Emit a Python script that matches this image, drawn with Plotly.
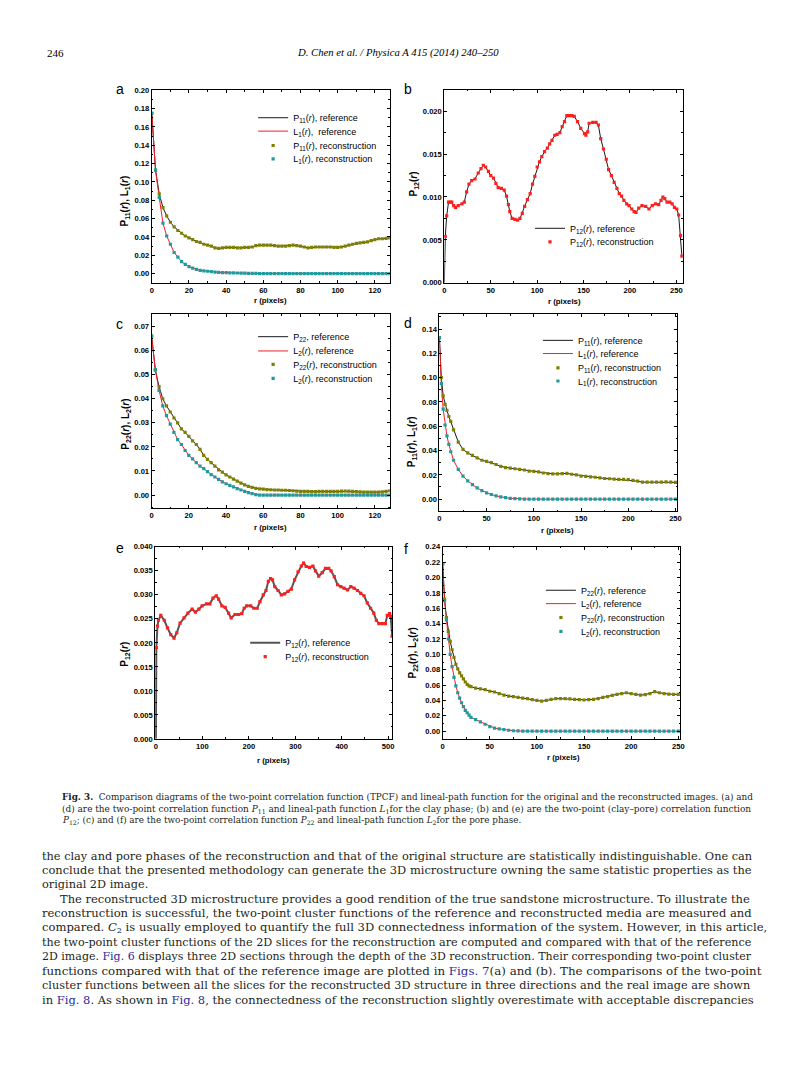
import plotly.graph_objects as go

# The page photo is 794x1084; plotly's html body has an 8px margin,
# so the figure is 786x1076 and window coordinates are shifted by 8px.
WIN_W, WIN_H = 794, 1084
OFF = 8
W, H = WIN_W - OFF, WIN_H - OFF

# ---------------- data ----------------
# panel a (r = 0..128 step 2)
r_a = list(range(0, 129, 2))
P11_a = [0.175, 0.113, 0.087, 0.072, 0.063, 0.056, 0.051, 0.047, 0.044, 0.041,
         0.039, 0.037, 0.035, 0.034, 0.032, 0.031, 0.030, 0.028, 0.0275, 0.028,
         0.0285, 0.0285, 0.0285, 0.028, 0.028, 0.0285, 0.0285, 0.029, 0.0305, 0.031,
         0.031, 0.031, 0.031, 0.0305, 0.030, 0.030, 0.030, 0.0305, 0.031, 0.0305,
         0.030, 0.029, 0.028, 0.0285, 0.029, 0.029, 0.029, 0.029, 0.029, 0.0285,
         0.0285, 0.029, 0.030, 0.031, 0.032, 0.033, 0.0335, 0.034, 0.0345, 0.036,
         0.037, 0.038, 0.038, 0.0385, 0.039]
L1_a = [0.175, 0.113, 0.083, 0.055, 0.041, 0.032, 0.023, 0.018, 0.013, 0.010,
        0.0075, 0.006, 0.0045, 0.0035, 0.003, 0.0025, 0.002, 0.0015, 0.0012, 0.001,
        0.001, 0.0008, 0.0007, 0.0006, 0.0005, 0.0004, 0.0003, 0.0002, 0.0001, 0.0,
        0, 0, 0, 0, 0, 0, 0, 0, 0, 0,
        0, 0, 0, 0, 0, 0, 0, 0, 0, 0,
        0, 0, 0, 0, 0, 0, 0, 0, 0, 0,
        0, 0, 0, 0, 0]

# panel b
r_b = [0, 1, 2.5, 4.5, 6.5, 8, 10, 12, 15, 19,
       21.5, 24, 26.5, 29.5, 33, 36.5, 39.5, 42, 44.5, 47.5,
       50, 53, 55.5, 58, 61.5, 64.5, 67, 69, 70.5, 73,
       76, 79, 81.5, 84, 86.5, 89.5, 92.5, 95, 97.5, 100,
       102.5, 105, 108, 111, 113.5, 116, 119, 121.5, 124.5, 127,
       129.5, 132, 135, 137.5, 140, 143.5, 147, 151, 152.5, 154.5,
       156, 160, 163.5, 166, 168.5, 171.5, 174.5, 177, 180, 183,
       186, 188.5, 191, 193.5, 196.5, 199, 202, 204.5, 206.5, 209.5,
       213, 217, 220.5, 224, 227.5, 231, 233.5, 235.5, 237.5, 240,
       243, 245.5, 248, 250.5, 252.5, 254.5, 256]
P12_b = [0, 0.0054, 0.0078, 0.0094, 0.0094, 0.0094, 0.0090, 0.0088, 0.0090, 0.0092,
         0.0094, 0.0106, 0.0115, 0.0119, 0.0121, 0.0128, 0.0133, 0.0137, 0.0135, 0.0130,
         0.0125, 0.0122, 0.0116, 0.0111, 0.0110, 0.0108, 0.0101, 0.0091, 0.0083, 0.0075,
         0.0074, 0.0073, 0.0075, 0.0081, 0.0089, 0.0097, 0.0104, 0.0115, 0.0124, 0.0135,
         0.0141, 0.0147, 0.0153, 0.0157, 0.0162, 0.0166, 0.0172, 0.0173, 0.0175, 0.0182,
         0.0188, 0.0195, 0.0195, 0.0195, 0.0194, 0.0188, 0.0180, 0.0174, 0.0172, 0.0176,
         0.0186, 0.0187, 0.0187, 0.0184, 0.0168, 0.0156, 0.0144, 0.0132, 0.0125, 0.0117,
         0.0110, 0.0104, 0.0101, 0.0096, 0.0092, 0.0090, 0.0086, 0.0083, 0.0082, 0.0087,
         0.0090, 0.0089, 0.0086, 0.0090, 0.0092, 0.0091, 0.0096, 0.0100, 0.0098, 0.0094,
         0.0094, 0.0092, 0.0088, 0.0086, 0.0079, 0.0055, 0.0031]

# panel c (r = 0..128 step 2)
r_c = list(range(0, 129, 2))
P22_c = [0.066, 0.052, 0.045, 0.040, 0.037, 0.0345, 0.032, 0.030, 0.0275, 0.026,
         0.0244, 0.0225, 0.021, 0.019, 0.0165, 0.0148, 0.0135, 0.012, 0.0105, 0.0095,
         0.0084, 0.0075, 0.0066, 0.0058, 0.005, 0.0042, 0.0036, 0.0032, 0.0028, 0.0026,
         0.0025, 0.0023, 0.0022, 0.0021, 0.0021, 0.002, 0.002, 0.0019, 0.0018, 0.0016,
         0.0015, 0.0015, 0.0015, 0.0014, 0.0014, 0.0015, 0.0015, 0.0015, 0.0015, 0.0015,
         0.0015, 0.0016, 0.0017, 0.0016, 0.0015, 0.0014, 0.0013, 0.0012, 0.0012, 0.0012,
         0.0012, 0.0012, 0.0013, 0.0015, 0.0018]
L2_c = [0.066, 0.052, 0.0435, 0.037, 0.033, 0.0295, 0.026, 0.023, 0.021, 0.0185,
        0.0165, 0.015, 0.0135, 0.012, 0.011, 0.0097, 0.0085, 0.0075, 0.0065, 0.0055,
        0.0047, 0.004, 0.0034, 0.0027, 0.0021, 0.0015, 0.001, 0.0006, 0.0002, 0.0,
        0, 0, 0, 0, 0, 0, 0, 0, 0, 0,
        0, 0, 0, 0, 0, 0, 0, 0, 0, 0,
        0, 0, 0, 0, 0, 0, 0, 0, 0, 0,
        0, 0, 0, 0, 0]

# panel d
r_d = [0, 2, 4, 6, 8, 10, 12,
       15, 20, 25, 30, 35, 40, 45, 50, 55, 60,
       65, 70, 75, 80, 85, 90, 95, 100, 105, 110,
       115, 120, 125, 130, 135, 140, 145, 150, 155, 160,
       165, 170, 175, 180, 185, 190, 195, 200, 205, 210,
       215, 220, 225, 230, 235, 240, 245, 250, 255]
P11_d = [0.133, 0.100, 0.085, 0.078, 0.073, 0.068, 0.064,
         0.057, 0.047, 0.041, 0.038, 0.036, 0.034, 0.032, 0.031, 0.030, 0.0285,
         0.027, 0.026, 0.0255, 0.025, 0.0245, 0.024, 0.023, 0.0228, 0.0225, 0.0215,
         0.021, 0.0208, 0.0208, 0.021, 0.0212, 0.0205, 0.020, 0.019, 0.0188, 0.0183,
         0.018, 0.0175, 0.017, 0.0168, 0.0165, 0.0163, 0.0162, 0.016, 0.0155, 0.0148,
         0.014, 0.014, 0.014, 0.014, 0.014, 0.0142, 0.014, 0.0138, 0.0133]
L1_d = [0.133, 0.095, 0.074, 0.061, 0.052, 0.045, 0.039,
        0.032, 0.0245, 0.019, 0.015, 0.012, 0.0092, 0.007, 0.0052, 0.0038, 0.0027,
        0.0018, 0.0012, 0.0007, 0.0004, 0.0002, 0, 0, 0, 0, 0,
        0, 0, 0, 0, 0, 0, 0, 0, 0, 0,
        0, 0, 0, 0, 0, 0, 0, 0, 0, 0,
        0, 0, 0, 0, 0, 0, 0, 0, 0]

# panel e
r_e = [0, 1, 3.5, 5.5, 10.5, 18, 25, 32, 39, 45,
       52, 60.5, 69, 78, 85, 92.5, 99.5, 109, 116, 123,
       130, 135, 142, 149, 156.5, 162, 170.5, 178, 185, 190,
       195.5, 204, 211, 218, 224, 231, 237, 242, 247, 251,
       256, 263, 270, 277, 284.5, 291.5, 298.5, 306, 313, 318,
       323.5, 330.5, 338, 343.5, 350.5, 358, 365, 372, 377, 384,
       391, 398, 405, 412.5, 419.5, 426.5, 434, 441, 448, 455,
       462, 469, 474.5, 480, 487, 494, 498, 503, 505.5, 508.5]
P12_e = [0, 0.019, 0.0235, 0.0247, 0.0257, 0.0247, 0.0231, 0.0217, 0.0210, 0.0221,
         0.0241, 0.0252, 0.0262, 0.0270, 0.0264, 0.0270, 0.0277, 0.0281, 0.0281, 0.0293,
         0.0298, 0.0291, 0.0277, 0.0274, 0.0262, 0.0252, 0.0259, 0.0259, 0.0261, 0.0272,
         0.0277, 0.0277, 0.0272, 0.0272, 0.0286, 0.0300, 0.0309, 0.0328, 0.0334, 0.0331,
         0.0317, 0.0309, 0.0300, 0.0302, 0.0307, 0.0312, 0.0331, 0.0348, 0.0360, 0.0366,
         0.0359, 0.0357, 0.0360, 0.0350, 0.0339, 0.0346, 0.0355, 0.0355, 0.0350, 0.0338,
         0.0321, 0.0317, 0.0314, 0.0310, 0.0317, 0.0314, 0.0309, 0.0303, 0.0298, 0.0283,
         0.0272, 0.0262, 0.0247, 0.0240, 0.0240, 0.0240, 0.0257, 0.0261, 0.0255, 0.0214]

# panel f
r_f = [0, 2, 4, 6, 8, 10, 12, 14, 16, 18, 20, 22, 24, 26, 28, 30,
       35, 40, 45, 50, 55, 60, 65, 70, 75, 80,
       85, 90, 95, 100, 105, 110, 115, 120, 125, 130,
       135, 140, 145, 150, 155, 160, 165, 170, 175, 180,
       185, 190, 195, 200, 205, 210, 215, 220, 225, 230,
       235, 240, 245, 250]
P22_f = [0.218, 0.172, 0.148, 0.130, 0.117, 0.106, 0.096, 0.087, 0.081, 0.076, 0.072, 0.068, 0.064, 0.061, 0.059, 0.058,
         0.056, 0.0552, 0.054, 0.052, 0.051, 0.049, 0.047, 0.0457, 0.045, 0.044,
         0.043, 0.0423, 0.041, 0.040, 0.039, 0.040, 0.0414, 0.0423, 0.0423, 0.0423,
         0.042, 0.0414, 0.041, 0.0406, 0.041, 0.0414, 0.0425, 0.044, 0.045, 0.0466,
         0.048, 0.049, 0.050, 0.0488, 0.048, 0.047, 0.0475, 0.049, 0.0514, 0.050,
         0.049, 0.0483, 0.048, 0.0479]
L2_f = [0.218, 0.170, 0.145, 0.120, 0.100, 0.084, 0.070, 0.059, 0.050, 0.043, 0.037, 0.032, 0.027, 0.024, 0.021, 0.018,
        0.015, 0.012, 0.009, 0.006, 0.004, 0.003, 0.002, 0.0012, 0.0006, 0.0003,
        0, 0, 0, 0, 0, 0, 0, 0, 0, 0,
        0, 0, 0, 0, 0, 0, 0, 0, 0, 0,
        0, 0, 0, 0, 0, 0, 0, 0, 0, 0,
        0, 0, 0, 0]

# ---------------- styling ----------------
SANS = "Liberation Sans"
SERIF = "DejaVu Serif"
BLACK = "#1a1a1a"
RED = "#f0202a"
OLIVE = "#808000"
TEAL = "#1f9a9e"
REDDOT = "#ff1f1f"

fig = go.Figure()


def px(x):
    """window x (px) -> paper fraction"""
    return (x - OFF) / W


def py(y):
    """window y (px) -> paper fraction"""
    return 1 - (y - OFF) / H


def sub(s):
    return f"<sub>{s}</sub>"


legends = {}
leg_counter = [0]


def new_legend(text_x, center_y):
    leg_counter[0] += 1
    name = "legend" if leg_counter[0] == 1 else f"legend{leg_counter[0]}"
    legends[name] = dict(x=px(text_x - 40), y=py(center_y - 16.5),
                         xanchor="left", yanchor="top",
                         bgcolor="rgba(0,0,0,0)", borderwidth=0,
                         font=dict(family=SANS, size=9, color="black"),
                         itemwidth=30)
    return name


def add_line(x, y, name, color, width, ax, leg):
    fig.add_trace(go.Scatter(x=x, y=y, mode="lines", name=name,
                             line=dict(color=color, width=width),
                             xaxis="x" + ax, yaxis="y" + ax, legend=leg))


def add_dots(x, y, name, color, ax, leg, size=3.2):
    fig.add_trace(go.Scatter(x=x, y=y, mode="markers", name=name,
                             marker=dict(color=color, size=size, symbol="square",
                                         line=dict(width=0)),
                             xaxis="x" + ax, yaxis="y" + ax, legend=leg))


R = "(<i>r</i>)"
# panel a
add_line(r_a, P11_a, "P" + sub("11") + R + ", reference", BLACK, 1, "", new_legend(293, 116.5))
add_line(r_a, L1_a, "L" + sub("1") + R + ",  reference", RED, 1, "", new_legend(293, 130))
add_dots(r_a, P11_a, "P" + sub("11") + R + ", reconstruction", OLIVE, "", new_legend(293, 144.5))
add_dots(r_a, L1_a, "L" + sub("1") + R + ", reconstruction", TEAL, "", new_legend(293, 158))
# panel b
add_line(r_b, P12_b, "P" + sub("12") + R + ", reference", BLACK, 1, "2", new_legend(572, 228))
add_dots(r_b[1:], P12_b[1:], "P" + sub("12") + R + ", reconstruction", REDDOT, "2", new_legend(572, 241.7), 3.2)
# panel c
add_line(r_c, P22_c, "P" + sub("22") + ", reference", BLACK, 1, "3", new_legend(293, 337.3))
add_line(r_c, L2_c, "L" + sub("2") + R + ", reference", RED, 1, "3", new_legend(293, 351.7))
add_dots(r_c, P22_c, "P" + sub("22") + R + ", reconstruction", OLIVE, "3", new_legend(293, 365.3))
add_dots(r_c, L2_c, "L" + sub("2") + R + ", reconstruction", TEAL, "3", new_legend(293, 379.3))
# panel d
add_line(r_d, P11_d, "P" + sub("11") + R + ", reference", BLACK, 1, "4", new_legend(580, 341))
add_line(r_d, L1_d, "L" + sub("1") + R + ", reference", RED, 1, "4", new_legend(580, 354.3))
add_dots(r_d, P11_d, "P" + sub("11") + R + ", reconstruction", OLIVE, "4", new_legend(580, 368.7))
add_dots(r_d, L1_d, "L" + sub("1") + R + ", reconstruction", TEAL, "4", new_legend(580, 382))
# panel e
add_line(r_e, P12_e, "P" + sub("12") + R + ", reference", "#555555", 2, "5", new_legend(285, 646))
add_dots(r_e[1:], P12_e[1:], "P" + sub("12") + R + ", reconstruction", REDDOT, "5", new_legend(285, 660), 3.2)
# panel f
add_line(r_f, P22_f, "P" + sub("22") + R + ", reference", BLACK, 1, "6", new_legend(583, 593))
add_line(r_f, L2_f, "L" + sub("2") + R + ", reference", RED, 1, "6", new_legend(583, 606.5))
add_dots(r_f, P22_f, "P" + sub("22") + R + ", reconstruction", OLIVE, "6", new_legend(583, 620.5))
add_dots(r_f, L2_f, "L" + sub("2") + R + ", reconstruction", TEAL, "6", new_legend(583, 634.5))

# axes: (suffix, x px, y px (top,bottom), xrange, yrange, xdtick, ydtick, yfmt)
panels = [
    ("",  (150.9, 390.7), (87.0, 281.0), [0, 128], [-0.01, 0.20], 20, 0.02, ".2f"),
    ("2", (445.7, 686.0), (86.5, 281.0), [0, 257], [0, 0.0225], 50, 0.005, ".3f"),
    ("3", (150.7, 390.7), (313.0, 508.5), [0, 128], [-0.0055, 0.075], 20, 0.01, ".2f"),
    ("4", (440.7, 680.5), (313.0, 511.5), [0, 252], [-0.01, 0.152], 50, 0.02, ".2f"),
    ("5", (154.3, 393.3), (547.3, 741.0), [-1.5, 509], [0, 0.040], 100, 0.005, ".3f"),
    ("6", (444.0, 683.3), (547.3, 741.0), [0, 252], [-0.01, 0.24], 50, 0.02, ".2f"),
]

tickfont = dict(family=SANS, size=7.6, color="black", weight="bold")
layout_axes = {}
for suf, xd, yd, xr, yr, xdt, ydt, yfmt in panels:
    common = dict(showline=True, linecolor="black", linewidth=1, mirror="allticks",
                  ticks="inside", ticklen=3, tickwidth=0.8, tickcolor="black",
                  showgrid=False, zeroline=False, tickfont=tickfont, fixedrange=True)
    layout_axes["xaxis" + suf] = dict(
        common, domain=[px(xd[0]), px(xd[1])], range=xr, tick0=0, dtick=xdt,
        anchor="y" + suf, tickformat="d",
        minor=dict(ticks="inside", ticklen=1.6, dtick=xdt / 2, tick0=0, tickcolor="black"))
    layout_axes["yaxis" + suf] = dict(
        common, domain=[py(yd[1]), py(yd[0])], range=yr, tick0=0, dtick=ydt,
        anchor="x" + suf, tickformat=yfmt,
        minor=dict(ticks="inside", ticklen=1.6, dtick=ydt / 2, tick0=0, tickcolor="black"))

annotations = []


def txt(x, y, text, size, family=SANS, xanchor="left", angle=0, color="black", weight=None):
    f = dict(family=family, size=size, color=color)
    if weight:
        f["weight"] = weight
    annotations.append(dict(x=px(x), y=py(y), xref="paper", yref="paper", text=text,
                            showarrow=False, xanchor=xanchor, yanchor="middle",
                            textangle=angle, font=f))


# panel letters
for lab, x, y in [("a", 113, 86), ("b", 403, 86), ("c", 113, 323),
                  ("d", 403, 322), ("e", 113, 549), ("f", 403, 550)]:
    txt(x, y, lab, 14)

# axis titles
ytitles = [(124, 199, "P" + sub("11") + R + ", L" + sub("1") + R),
           (415, 181, "P" + sub("12") + R),
           (124, 424, "P" + sub("22") + R + ", L" + sub("2") + R),
           (413, 441, "P" + sub("11") + R + ", L" + sub("1") + R),
           (123, 656, "P" + sub("12") + R),
           (414, 654, "P" + sub("22") + R + ", L" + sub("2") + R)]
for x, y, t in ytitles:
    txt(x, y, t, 10, xanchor="center", angle=-90, weight="bold")
for x, y in [(270, 298.5), (567, 300), (270, 528), (560, 530.5), (274, 763), (566, 760)]:
    txt(x, y, "r (pixels)", 7.8, xanchor="center", weight="bold")

# page header
txt(43, 49, "246", 11, family="Liberation Serif")
txt(399, 49, "<i>D. Chen et al. / Physica A 415 (2014) 240–250</i>", 10.7,
    family="Liberation Serif", xanchor="center")

# caption (font size per line approximates the justified block)
TC = "#231f20"
cap = [
    (8.85, "<b>Fig. 3.</b>  Comparison diagrams of the two-point correlation function (TPCF) and lineal-path function for the original and the reconstructed images. (a) and"),
    (8.95, "(d) are the two-point correlation function <i>P</i><sub>11</sub> and lineal-path function <i>L</i><sub>1</sub>for the clay phase; (b) and (e) are the two-point (clay–pore) correlation function"),
    (8.8, "<i>P</i><sub>12</sub>; (c) and (f) are the two-point correlation function <i>P</i><sub>22</sub> and lineal-path function <i>L</i><sub>2</sub>for the pore phase."),
]
for i, (fs, line) in enumerate(cap):
    txt(58, 800 + 11.8 * i, line, fs, family=SERIF, color=TC)

LINK = "#2a2a9a"


def link(s):
    return f"<span style='color:{LINK}'>{s}</span>"


body = [
    (0, 11.33, "the clay and pore phases of the reconstruction and that of the original structure are statistically indistinguishable. One can"),
    (0, 11.45, "conclude that the presented methodology can generate the 3D microstructure owning the same statistic properties as the"),
    (0, 11.3, "original 2D image."),
    (18, 11.48, "The reconstructed 3D microstructure provides a good rendition of the true sandstone microstructure. To illustrate the"),
    (0, 11.57, "reconstruction is successful, the two-point cluster functions of the reference and reconstructed media are measured and"),
    (0, 11.58, "compared. <i>C</i><sub>2</sub> is usually employed to quantify the full 3D connectedness information of the system. However, in this article,"),
    (0, 11.18, "the two-point cluster functions of the 2D slices for the reconstruction are computed and compared with that of the reference"),
    (0, 11.03, "2D image. " + link("Fig. 6") + " displays three 2D sections through the depth of the 3D reconstruction. Their corresponding two-point cluster"),
    (0, 11.85, "functions compared with that of the reference image are plotted in " + link("Figs. 7") + "(a) and (b). The comparisons of the two-point"),
    (0, 11.28, "cluster functions between all the slices for the reconstructed 3D structure in three directions and the real image are shown"),
    (0, 11.5, "in " + link("Fig. 8") + ". As shown in " + link("Fig. 8") + ", the connectedness of the reconstruction slightly overestimate with acceptable discrepancies"),
]
for i, (ind, fs, line) in enumerate(body):
    txt(38 + ind, 859 + 14.5 * i, line, fs, family=SERIF, color=TC)

fig.update_layout(
    width=W, height=H, margin=dict(l=0, r=0, t=0, b=0),
    paper_bgcolor="white", plot_bgcolor="white",
    showlegend=True, annotations=annotations,
    **layout_axes, **legends,
)

fig.write_html("out.html")
